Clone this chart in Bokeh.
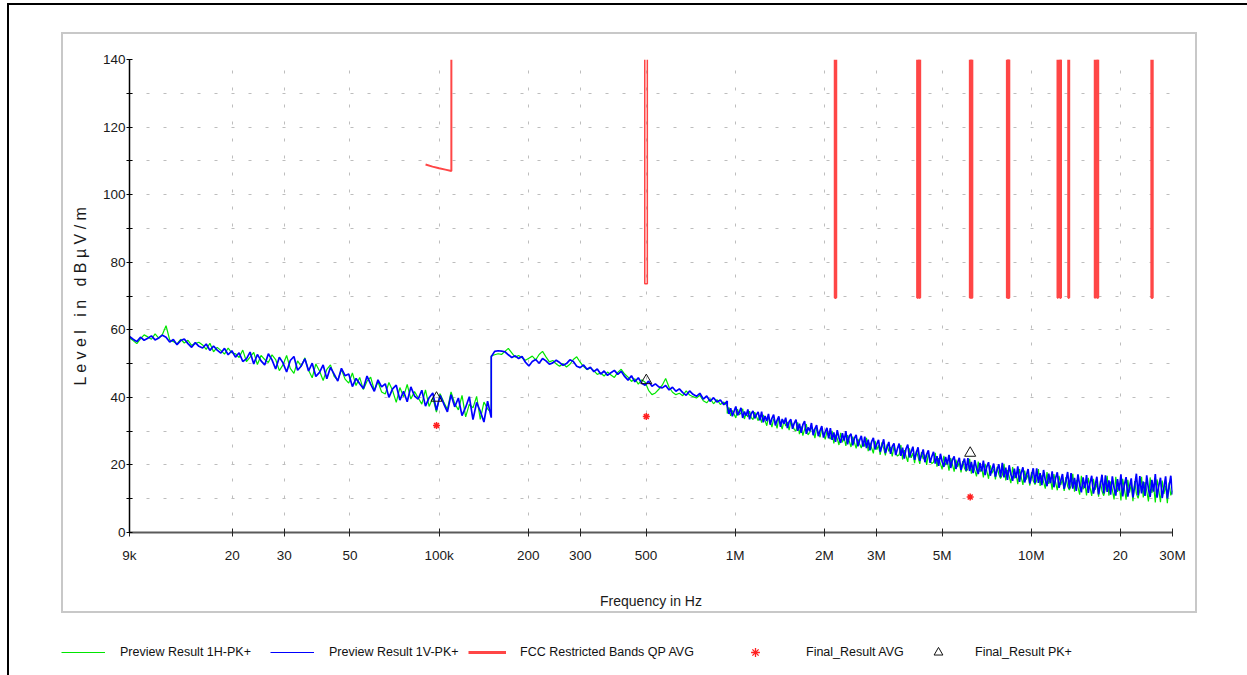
import numpy as np
from bokeh.plotting import figure
from bokeh.layouts import column
from bokeh.models import FixedTicker, Legend, LegendItem, ColumnDataSource
from bokeh.embed import file_html
from bokeh.resources import INLINE

# ---------------- data ----------------
# receiver sweep sub-ranges (start, stop); point counts follow the value lists
sweep_a = (9e3, 150e3)
sweep_b = (150e3, 940e3)
sweep_c = (940e3, 30e6)

blue_a = [
    58.0, 57.2, 56.5, 57.8, 56.9, 57.5, 58.2, 57.0, 57.6, 58.4,
    57.8, 56.4, 57.1, 55.6, 56.8, 57.3, 55.9, 54.8, 56.2, 55.1,
    54.6, 55.8, 53.9, 55.2, 54.0, 53.1, 54.5, 52.6, 53.8, 51.9,
    53.2, 50.6, 51.4, 53.4, 49.9, 52.7, 50.8, 49.6, 52.9, 51.1,
    48.4, 51.9, 50.2, 47.5, 50.9, 52.1, 48.0, 49.3, 51.4, 47.8,
    50.1, 46.2, 47.4, 49.6, 45.5, 48.9, 46.9, 44.8, 48.6, 46.4,
    46.9, 43.2, 45.6, 44.0, 42.6, 46.3, 43.9, 41.8, 45.2, 43.1,
    44.0, 40.0, 42.5, 43.6, 39.2, 41.8, 38.7, 43.1, 40.4, 39.5,
    42.1, 37.4, 39.9, 41.3, 36.2, 40.6, 38.1, 35.7, 40.8, 37.2,
    39.8, 34.6, 37.1, 40.2, 33.4, 38.5, 35.9, 32.7, 38.9, 34.0,
]
green_a = [
    57.6, 56.8, 55.9, 57.3, 58.5, 57.9, 57.2, 58.8, 57.5, 58.6,
    61.2, 57.0, 56.5, 55.8, 57.2, 56.1, 56.9, 55.4, 55.9, 56.3,
    55.5, 54.2, 56.0, 53.5, 54.8, 53.9, 52.8, 54.6, 53.2, 52.9,
    51.8, 54.0, 50.6, 51.9, 53.3, 49.7, 52.4, 51.2, 50.3, 52.6,
    51.2, 47.9, 49.6, 52.4, 48.6, 47.1, 50.8, 49.2, 51.7, 48.0,
    45.8, 49.9, 47.8, 45.0, 48.3, 49.6, 46.2, 45.1, 48.2, 45.4,
    44.2, 47.2, 43.5, 45.9, 42.3, 44.8, 46.0, 42.1, 44.6, 41.6,
    41.0, 44.4, 42.0, 38.5, 42.9, 40.2, 43.8, 39.5, 41.7, 39.9,
    38.0, 42.2, 37.3, 39.9, 35.6, 41.1, 38.6, 36.4, 41.6, 38.2,
    36.3, 40.6, 34.2, 38.0, 36.9, 40.3, 33.5, 38.6, 36.6, 35.4,
]
blue_b = [
    52.0, 53.6, 53.8, 53.7, 53.5, 52.6, 51.8, 52.3, 51.5, 52.1,
    50.4, 49.3, 50.6, 51.2, 50.1, 51.5, 50.8, 49.8, 50.2, 51.0,
    50.3, 49.5, 50.0, 51.1, 50.6, 49.2, 48.8, 49.6, 48.3, 48.9,
    47.6, 48.4, 46.9, 47.8, 46.5, 47.3, 48.0, 46.8, 47.7, 46.2,
    45.1, 46.4, 44.6, 45.8, 44.2, 43.6, 44.8, 43.3, 44.0, 43.1,
    42.8, 43.5, 42.2, 43.0, 41.8, 42.5, 41.4, 40.6, 41.9, 40.9,
    40.3, 41.2, 39.5, 40.4, 38.8, 39.9, 38.6, 39.2, 37.8, 38.9,
]
green_b = [
    52.3, 52.6, 52.9, 52.7, 53.6, 54.5, 53.2, 51.9, 52.4, 51.7,
    51.0, 51.6, 52.2, 51.1, 52.7, 53.6, 52.0, 50.5, 50.9, 49.9,
    49.2, 50.0, 49.0, 49.8, 51.2, 52.0, 50.4, 49.1, 48.2, 48.7,
    47.9, 46.8, 47.2, 46.3, 47.5, 46.6, 45.9, 47.4, 48.3, 46.9,
    46.0, 44.7, 45.5, 43.9, 45.2, 44.5, 42.1, 40.8, 41.3, 42.4,
    43.6, 45.6, 43.0, 41.5, 40.8, 41.2, 40.5, 41.9, 40.7, 40.2,
    39.8, 40.6, 39.0, 38.4, 39.6, 38.1, 39.3, 37.9, 38.6, 37.5,
]
blue_c = [
    37.5, 35.1, 36.8, 34.4, 35.9, 37.3, 34.7, 35.6, 36.9, 33.9, 35.8, 34.6, 36.4, 33.5, 35.2, 36.0, 33.8, 34.9, 35.7, 33.2,
    35.8, 32.6, 34.5, 33.0, 35.1, 31.9, 33.8, 34.9, 31.7, 33.2, 34.4, 31.3, 33.6, 32.2, 34.0, 30.9, 32.8, 33.5, 30.7, 32.4,
    33.4, 30.1, 32.2, 29.5, 31.9, 33.0, 29.2, 31.1, 30.0, 32.4, 28.8, 30.7, 31.8, 28.5, 30.2, 31.5, 28.1, 29.8, 31.0, 27.9,
    30.9, 27.4, 29.6, 26.8, 30.3, 28.0, 26.5, 29.4, 27.2, 30.0, 26.1, 28.5, 29.2, 25.8, 27.9, 28.9, 25.5, 27.3, 28.6, 25.4,
    28.4, 25.0, 27.5, 24.3, 26.9, 28.0, 24.6, 26.2, 27.4, 23.9, 25.7, 27.6, 23.5, 25.2, 26.8, 23.3, 25.5, 26.4, 22.9, 24.8,
    26.3, 22.7, 25.1, 21.9, 24.8, 26.0, 22.2, 23.9, 25.4, 21.5, 23.6, 25.2, 21.2, 22.9, 24.6, 20.8, 23.1, 24.3, 20.6, 22.5,
    23.9, 20.4, 22.6, 19.7, 23.3, 21.0, 19.4, 22.4, 20.2, 23.0, 19.1, 21.5, 22.5, 18.8, 20.7, 22.1, 18.5, 20.4, 21.9, 18.3,
    22.0, 18.2, 20.9, 17.6, 21.4, 19.0, 17.3, 20.6, 18.1, 21.3, 17.0, 19.5, 20.8, 16.8, 18.7, 20.4, 16.5, 18.6, 20.2, 16.4,
    20.6, 16.3, 19.2, 15.6, 19.9, 17.2, 15.3, 18.9, 16.1, 19.6, 15.0, 17.7, 19.3, 14.8, 16.9, 18.8, 14.5, 16.8, 19.0, 14.6,
    19.0, 14.7, 17.6, 14.0, 18.5, 15.6, 13.7, 17.4, 14.6, 18.1, 13.4, 16.1, 17.8, 13.2, 15.3, 17.3, 12.9, 15.2, 17.9, 13.0,
    17.6, 13.0, 16.2, 12.3, 17.2, 14.0, 11.9, 16.3, 13.1, 17.0, 11.7, 14.7, 16.8, 11.5, 13.9, 16.5, 11.3, 14.0, 17.1, 11.6,
    16.9, 12.0, 15.4, 11.2, 16.6, 13.3, 10.9, 15.8, 12.4, 17.2, 10.7, 14.1, 16.4, 10.6, 13.5, 16.0, 10.4, 13.8, 17.4, 11.0,
    16.7, 11.6, 15.1, 10.8, 16.9, 12.9, 10.5, 15.6, 12.1, 17.3, 10.3, 13.8, 16.2, 10.2, 13.3, 16.6, 10.1, 13.6, 16.8, 11.2,
]
green_c = [
    35.2, 37.0, 34.5, 36.1, 35.0, 33.9, 36.5, 34.8, 35.4, 36.6, 33.6, 35.3, 34.2, 35.9, 34.0, 33.4, 35.6, 34.3, 33.1, 34.7,
    32.5, 34.8, 33.1, 31.6, 34.2, 32.9, 31.2, 33.7, 32.6, 30.8, 33.9, 32.1, 30.6, 33.3, 31.5, 32.7, 30.3, 32.9, 31.8, 30.5,
    30.0, 32.6, 29.1, 31.4, 28.7, 30.5, 32.1, 28.9, 29.6, 31.2, 30.3, 27.9, 30.9, 29.4, 28.2, 30.8, 29.0, 27.6, 29.9, 28.4,
    27.6, 30.1, 26.4, 28.9, 27.8, 25.9, 29.5, 26.7, 28.2, 25.6, 28.8, 27.0, 25.3, 28.4, 26.6, 24.9, 27.7, 26.2, 25.0, 27.1,
    25.4, 28.0, 24.1, 26.6, 25.0, 23.4, 27.1, 24.5, 25.8, 23.0, 26.7, 24.9, 22.8, 26.1, 24.0, 25.3, 22.5, 25.6, 23.7, 22.6,
    23.0, 25.9, 21.6, 24.4, 22.6, 20.9, 24.9, 22.1, 23.5, 20.5, 24.2, 22.4, 20.3, 23.8, 21.7, 23.0, 20.0, 23.4, 21.3, 20.4,
    20.8, 23.6, 19.5, 22.0, 20.4, 18.7, 22.7, 19.9, 21.2, 18.3, 22.0, 20.1, 18.0, 21.6, 19.4, 20.8, 17.8, 21.1, 19.0, 18.1,
    18.8, 21.8, 17.4, 20.1, 18.4, 16.6, 21.0, 17.9, 19.2, 16.3, 20.3, 18.2, 15.9, 19.9, 17.5, 18.9, 15.7, 19.4, 17.2, 16.0,
    17.0, 20.3, 15.4, 18.5, 16.6, 14.6, 19.4, 16.0, 17.6, 14.3, 18.8, 16.4, 14.1, 18.3, 15.7, 17.2, 13.9, 17.9, 15.3, 14.2,
    15.4, 18.8, 13.8, 16.9, 15.0, 13.0, 17.9, 14.4, 16.0, 12.7, 17.3, 14.8, 12.5, 16.8, 14.1, 15.7, 12.3, 16.4, 13.7, 12.6,
    13.8, 17.4, 12.1, 15.6, 13.4, 11.2, 16.8, 12.8, 14.7, 11.0, 16.2, 13.5, 10.8, 15.9, 12.6, 14.5, 10.6, 15.3, 12.2, 10.9,
    12.9, 16.8, 10.9, 15.1, 12.7, 9.8, 16.5, 12.0, 14.4, 9.5, 15.9, 13.0, 9.7, 15.6, 11.8, 14.2, 9.3, 15.2, 11.5, 10.1,
    12.6, 16.5, 10.4, 14.9, 12.3, 9.2, 16.3, 11.7, 14.0, 8.9, 15.7, 12.6, 9.0, 15.4, 11.4, 13.9, 8.7, 14.8, 11.0, 12.4,
]

# FCC restricted bands limit line
fcc_sloped_f = [90e3, 95e3, 100e3, 105e3, 110e3, 110e3]
fcc_sloped_level = [108.9, 108.3, 107.8, 107.4, 107.0, 140.0]
band_lo_mhz = [0.495, 2.1735, 4.125, 4.17725, 4.20725, 6.215, 6.26775, 6.31175,
               8.291, 8.362, 8.37625, 8.41425, 12.29, 12.51975, 12.57675, 13.36,
               16.42, 16.69475, 16.80425, 25.5]
band_hi_mhz = [0.505, 2.1905, 4.128, 4.17775, 4.20775, 6.218, 6.26825, 6.31225,
               8.294, 8.366, 8.38675, 8.41475, 12.293, 12.52025, 12.57725, 13.41,
               16.423, 16.69525, 16.80475, 25.67]
band_level = [73.6, 69.5, 69.5, 69.5, 69.5, 69.5, 69.5, 69.5, 69.5, 69.5,
              69.5, 69.5, 69.5, 69.5, 69.5, 69.5, 69.5, 69.5, 69.5, 69.5]
band_top = 140.0

# final results
final_f = [98e3, 501e3, 6.22e6]
final_avg = [31.7, 34.3, 10.5]
final_pk = [39.8, 45.0, 23.5]

# axes
x_ticks = [9000, 20000, 30000, 50000, 100000, 200000, 300000, 500000,
           1000000, 2000000, 3000000, 5000000, 10000000, 20000000, 30000000]
x_labels = ["9k", "20", "30", "50", "100k", "200", "300", "500",
            "1M", "2M", "3M", "5M", "10M", "20", "30M"]
y_ticks = [0, 20, 40, 60, 80, 100, 120, 140]
y_minor = [10, 30, 50, 70, 90, 110, 130]
y_grid = [10, 20, 30, 40, 50, 60, 70, 80, 90, 100, 110, 120, 130, 140]

legend_labels = ["Preview Result 1H-PK+", "Preview Result 1V-PK+",
                 "FCC Restricted Bands QP AVG", "Final_Result AVG", "Final_Result PK+"]

# ---------------- build ----------------
freq = np.concatenate([np.geomspace(*sweep_a, len(blue_a)),
                       np.geomspace(*sweep_b, len(blue_b)),
                       np.geomspace(*sweep_c, len(blue_c))])
blue = np.array(blue_a + blue_b + blue_c)
green = np.array(green_a + green_b + green_c)

FONT = "'Liberation Sans', Arial, sans-serif"
GREEN, BLUE, RED = "#00e600", "#0000ff", "#ff4646"

p = figure(width=1247, height=620, x_axis_type="log", x_range=(9e3, 3e7), y_range=(0, 140),
           output_backend="svg", toolbar_location=None,
           min_border_left=129, min_border_right=75, min_border_top=59, min_border_bottom=88)
p.frame_align = False
p.outline_line_color = None
p.background_fill_color = "white"
p.border_fill_color = None

# grids
p.xgrid.ticker = FixedTicker(ticks=x_ticks)
p.ygrid.ticker = FixedTicker(ticks=y_grid)
for g in (p.xgrid, p.ygrid):
    g.grid_line_color = "#bdbdbd"
    g.grid_line_dash = "3 14"
    g.grid_line_width = 1

# x axis
p.xaxis.ticker = FixedTicker(ticks=x_ticks)
p.xaxis.major_label_overrides = {t: l for t, l in zip(x_ticks, x_labels)}
p.xaxis.axis_line_color = "#5a5a5a"
p.xaxis.axis_line_width = 2
p.xaxis.major_tick_line_color = "#222222"
p.xaxis.major_tick_in = 4
p.xaxis.major_tick_out = 4
p.xaxis.minor_tick_line_color = None
p.xaxis.major_label_standoff = 11
p.xaxis.axis_label = "Frequency in Hz"
p.xaxis.axis_label_standoff = 27

# y axis
p.yaxis.ticker = FixedTicker(ticks=y_ticks, minor_ticks=y_minor)
p.yaxis.axis_line_color = "black"
p.yaxis.axis_line_width = 1.5
p.yaxis.major_tick_line_color = "black"
p.yaxis.minor_tick_line_color = "black"
p.yaxis.major_tick_in = 3
p.yaxis.major_tick_out = 3
p.yaxis.minor_tick_in = 3
p.yaxis.minor_tick_out = 3
p.yaxis.major_label_standoff = 1
p.yaxis.axis_label = "L e v e l \u00a0 i n \u00a0 d B µ V / m"
p.yaxis.axis_label_standoff = 11

for ax in (p.xaxis, p.yaxis):
    ax.major_label_text_font = FONT
    ax.major_label_text_font_size = "13.5px"
    ax.major_label_text_color = "#1a1a1a"
    ax.axis_label_text_font = FONT
    ax.axis_label_text_font_style = "normal"
    ax.axis_label_text_color = "#1a1a1a"
p.xaxis.axis_label_text_font_size = "14px"
p.yaxis.axis_label_text_font_size = "16px"

# traces
p.line(freq, green, line_color=GREEN, line_width=1.2)
p.line(freq, blue, line_color=BLUE, line_width=1.7)

# FCC limit
band_xs = [[lo * 1e6, lo * 1e6, hi * 1e6, hi * 1e6] for lo, hi in zip(band_lo_mhz, band_hi_mhz)]
band_ys = [[band_top, lv, lv, band_top] for lv in band_level]
band_w = [1.5] + [2.5] * (len(band_level) - 1)
fcc_src = ColumnDataSource(dict(xs=band_xs, ys=band_ys, w=band_w))
p.multi_line("xs", "ys", source=fcc_src, line_color=RED, line_width="w")
p.line(fcc_sloped_f, fcc_sloped_level, line_color=RED, line_width=2)

# final results
p.scatter(final_f, final_avg, marker="asterisk", size=7, line_color="#ff2020", line_width=1.5)
p.scatter(final_f, final_pk, marker="triangle", size=11, line_color="#111111",
          fill_alpha=0, line_width=1)

# ---------------- legend strip ----------------
pl = figure(width=1247, height=55, x_range=(0, 1), y_range=(0, 1), output_backend="svg",
            toolbar_location=None, min_border=0, x_axis_location=None, y_axis_location=None)
pl.frame_align = False
pl.outline_line_color = None
pl.background_fill_color = None
pl.border_fill_color = None
pl.grid.visible = False
nan = [float("nan")]
proxies = [
    pl.line(nan, nan, line_color=GREEN, line_width=1),
    pl.line(nan, nan, line_color=BLUE, line_width=1.2),
    pl.line(nan, nan, line_color=RED, line_width=3),
    pl.scatter(nan, nan, marker="asterisk", size=7, line_color="#ff2020", line_width=1.3),
    pl.scatter(nan, nan, marker="triangle", size=10, line_color="#111111", fill_alpha=0, line_width=1),
]
# (left x, bottom y, glyph width, glyph height, label standoff)
legend_slots = [(61, 16, 44, 14, 15), (270, 16, 44, 14, 15), (468, 16, 38, 14, 14),
                (744, 12, 22, 22, 40), (927, 12, 22, 22, 26)]
for label, rend, (lx, ly, gw, gh, so) in zip(legend_labels, proxies, legend_slots):
    lg = Legend(items=[LegendItem(label=label, renderers=[rend])], location=(lx, ly),
                orientation="horizontal", glyph_width=gw, glyph_height=gh, label_height=gh,
                label_standoff=so, padding=0, margin=0, spacing=0, border_line_color=None,
                background_fill_alpha=0, label_text_font=FONT, label_text_font_size="12.5px",
                label_text_color="#111111")
    pl.add_layout(lg, "center")

# page frame (black outer border, grey chart panel)
frame_css = {
    "background-color": "white",
    "background-image": ", ".join(["linear-gradient(#000000, #000000)"] * 2 +
                                  ["linear-gradient(#c8c8c8, #c8c8c8)"] * 4),
    "background-position": "7px 3px, 7px 3px, 61px 32px, 61px 32px, 1195px 32px, 61px 611px",
    "background-size": "2px 100%, 100% 2px, 2px 581px, 1136px 2px, 2px 581px, 1136px 2px",
    "background-repeat": "no-repeat",
}
root = column(p, pl, spacing=0, styles=frame_css)

open("out.html", "w").write(file_html(root, INLINE))
